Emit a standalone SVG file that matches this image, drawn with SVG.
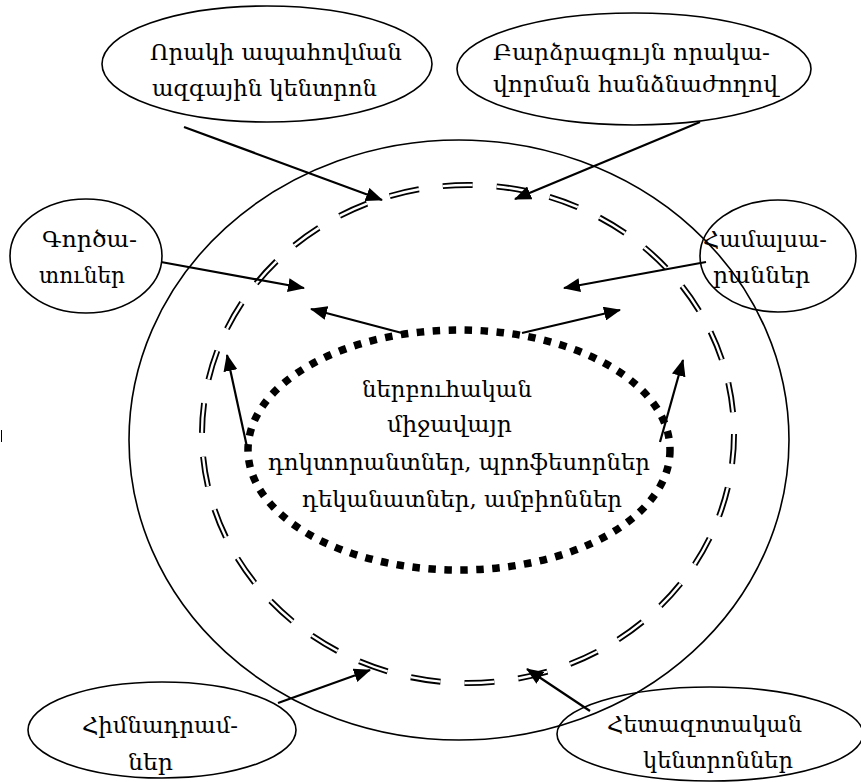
<svg xmlns="http://www.w3.org/2000/svg" width="861" height="782" viewBox="0 0 861 782">
  <style>
    .node { fill: none; stroke: #000; stroke-width: 1.6; }
    .lbl { font-family: "DejaVu Serif", "Noto Sans", serif; font-size: 23px; fill: #000; }
    .conn { stroke: #000; stroke-width: 2.2; fill: none; marker-end: url(#ah); }
  </style>
  <defs>
    <marker id="ah" markerUnits="userSpaceOnUse" markerWidth="18" markerHeight="14" refX="16" refY="7" orient="auto">
      <path d="M0,0 L17,7 L0,14 z" fill="#000"/>
    </marker>
  </defs>
  <rect width="861" height="782" fill="#fff"/>

  <!-- environment rings -->
  <g id="outer-ring">
    <ellipse cx="459" cy="440" rx="330" ry="300" class="node"/>
  </g>
  <g id="double-dashed-ring">
    <ellipse cx="468" cy="434" rx="266" ry="249" fill="none" stroke="#000" stroke-width="6" stroke-dasharray="30 24"/>
    <ellipse cx="468" cy="434" rx="266" ry="249" fill="none" stroke="#fff" stroke-width="2.4" stroke-dasharray="30 24"/>
  </g>

  <!-- internal environment -->
  <g id="internal">
    <ellipse cx="459" cy="450" rx="211" ry="120" fill="none" stroke="#000" stroke-width="7.5" stroke-dasharray="7.5 8.5"/>
    <text class="lbl" x="362" y="397" textLength="170" lengthAdjust="spacingAndGlyphs">ներբուհական</text>
    <text class="lbl" x="387" y="432" textLength="125" lengthAdjust="spacingAndGlyphs">միջավայր</text>
    <text class="lbl" x="268" y="470" textLength="382" lengthAdjust="spacingAndGlyphs">դոկտորանտներ, պրոֆեսորներ</text>
    <text class="lbl" x="302" y="507" textLength="320" lengthAdjust="spacingAndGlyphs">դեկանատներ, ամբիոններ</text>
  </g>

  <g id="quality-center">
    <ellipse cx="267" cy="64" rx="165" ry="58" class="node"/>
    <text class="lbl" x="150" y="60" textLength="252" lengthAdjust="spacingAndGlyphs">Որակի ապահովման</text>
    <text class="lbl" x="152" y="96" textLength="225" lengthAdjust="spacingAndGlyphs">ազգային կենտրոն</text>
  </g>

  <g id="qualification-commission">
    <ellipse cx="634" cy="69" rx="177" ry="56" class="node"/>
    <text class="lbl" x="493" y="60" textLength="277" lengthAdjust="spacingAndGlyphs">Բարձրագույն որակա-</text>
    <text class="lbl" x="493" y="92" textLength="285" lengthAdjust="spacingAndGlyphs">վորման հանձնաժողով</text>
  </g>

  <g id="factories">
    <ellipse cx="86" cy="256" rx="76" ry="57" class="node"/>
    <text class="lbl" x="42" y="247" textLength="95" lengthAdjust="spacingAndGlyphs">Գործա-</text>
    <text class="lbl" x="39" y="283" textLength="86" lengthAdjust="spacingAndGlyphs">տուներ</text>
  </g>

  <g id="universities">
    <ellipse cx="778" cy="256" rx="78" ry="56" class="node"/>
    <text class="lbl" x="703" y="247" textLength="124" lengthAdjust="spacingAndGlyphs">Համալսա-</text>
    <text class="lbl" x="713" y="283" textLength="97" lengthAdjust="spacingAndGlyphs">րաններ</text>
  </g>

  <g id="foundations">
    <ellipse cx="162" cy="730" rx="134" ry="48" class="node"/>
    <text class="lbl" x="82" y="733" textLength="156" lengthAdjust="spacingAndGlyphs">Հիմնադրամ-</text>
    <text class="lbl" x="128" y="770" textLength="45" lengthAdjust="spacingAndGlyphs">ներ</text>
  </g>

  <g id="research-centers">
    <ellipse cx="710" cy="734" rx="153" ry="47" class="node"/>
    <text class="lbl" x="607" y="732" textLength="195" lengthAdjust="spacingAndGlyphs">Հետազոտական</text>
    <text class="lbl" x="643" y="768" textLength="150" lengthAdjust="spacingAndGlyphs">կենտրոններ</text>
  </g>

  <!-- connectors -->
  <g id="connectors">
    <line class="conn" x1="184" y1="127" x2="382" y2="200"/>
    <line class="conn" x1="700" y1="122" x2="515" y2="199"/>
    <line class="conn" x1="161" y1="262" x2="304" y2="288"/>
    <line class="conn" x1="706" y1="262" x2="564" y2="288"/>
    <line class="conn" x1="402" y1="333" x2="311" y2="309"/>
    <line class="conn" x1="522" y1="333" x2="620" y2="310"/>
    <line class="conn" x1="247" y1="447" x2="227" y2="355"/>
    <line class="conn" x1="660" y1="442" x2="683" y2="360"/>
    <line class="conn" x1="278" y1="703" x2="370" y2="670"/>
    <line class="conn" x1="590" y1="711" x2="527" y2="669"/>
  </g>

  <line x1="1.5" y1="430" x2="1.5" y2="442" stroke="#000" stroke-width="1"/>
</svg>
